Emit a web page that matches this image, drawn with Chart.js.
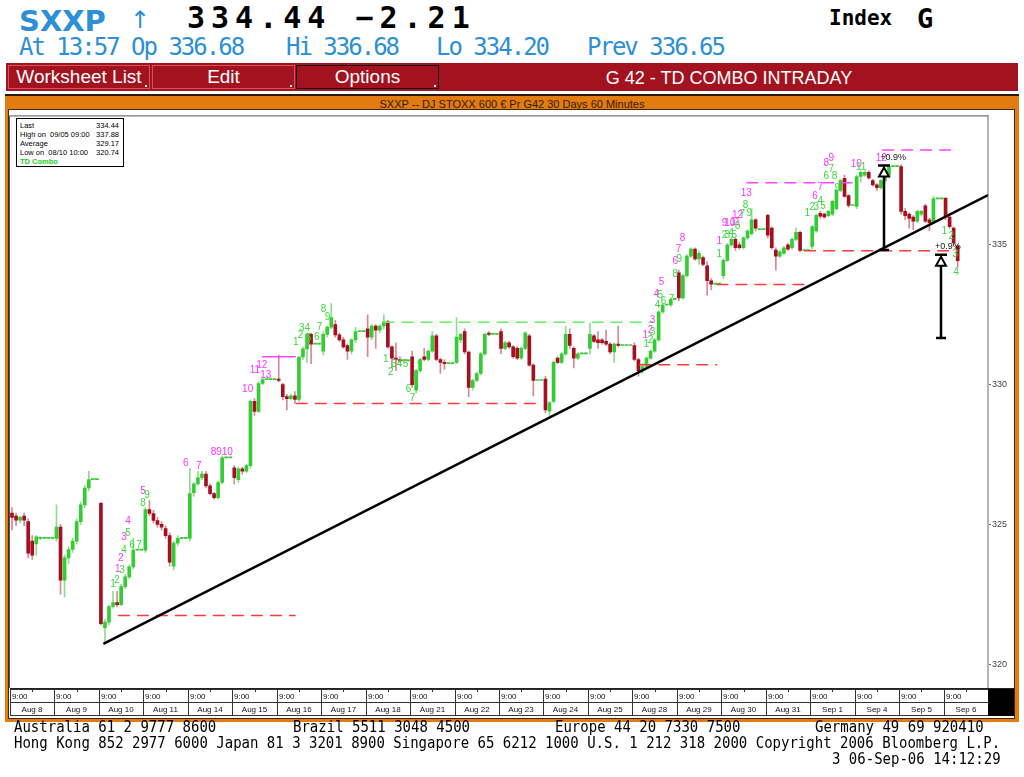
<!DOCTYPE html>
<html>
<head>
<meta charset="utf-8">
<script src="https://cdn.jsdelivr.net/npm/chart.js@4.4.1/dist/chart.umd.min.js"></script>
<style>
  body { margin: 0; width: 1024px; height: 777px; background: #fff; position: relative; overflow: hidden; }
  .t { position: absolute; white-space: pre; line-height: 1; }
  .mono { font-family: "DejaVu Sans Mono", monospace; }
  .blue { color: #2d8fd5; }
  #menu { position: absolute; left: 6px; top: 63px; width: 1012px; height: 28px; background: #a3121f; }
  .btn { position: absolute; top: 2px; height: 22px; border: 1px solid #d9505c; color: #fff;
         font: 19px "Liberation Sans", Arial, sans-serif; text-align: center; line-height: 22px; }
  .btn i { position: absolute; right: 2px; bottom: 1px; width: 2px; height: 2px; background: #fff; }
  #panel { position: absolute; left: 5px; top: 94px; width: 1014px; height: 628px; background: #e27c10;
           border-top: 2px solid #2a1a0a; box-sizing: border-box; }
  #ptitle { position: absolute; left: 0; top: 2px; width: 100%; text-align: center;
            font: 11px "Liberation Sans", Arial, sans-serif; color: #3a1800; }
  #plot { position: absolute; left: 9px; top: 110px; width: 1005px; height: 608px; background: #fff;
          box-shadow: 0 0 0 1px #3a2a1a; }
  #chart { position: absolute; left: 0; top: 0; }
  #legend { position: absolute; left: 16px; top: 118px; width: 106px; height: 47px; border: 1px solid #000;
            background: #fff; font: 7.5px "Liberation Sans", Arial, sans-serif; color: #000; }
  #legend div { position: absolute; left: 3px; white-space: pre; }
  #legend span { position: absolute; right: 4px; white-space: pre; }
  .foot { font: 14px "DejaVu Sans Mono", monospace; color: #000; transform: scaleY(1.18); transform-origin: 0 0; }
</style>
</head>
<body>

<!-- header -->
<div class="t blue" style="left:19px;top:4px;font:bold 29px 'DejaVu Sans',sans-serif;">SXXP</div>
<div class="t blue" style="left:130px;top:6px;font:24px 'DejaVu Sans',sans-serif;">↑</div>
<div class="t mono" style="left:187px;top:3px;font-weight:bold;font-size:30px;letter-spacing:6px;">334.44 −2.21</div>
<div class="t mono" style="left:829px;top:8px;font-weight:bold;font-size:21px;">Index</div>
<div class="t mono" style="left:917px;top:5px;font-weight:bold;font-size:27px;">G</div>

<div class="t mono blue" style="left:19px;top:35px;font-size:24px;letter-spacing:-2px;">At 13:57 Op 336.68</div>
<div class="t mono blue" style="left:286px;top:35px;font-size:24px;letter-spacing:-2px;">Hi 336.68</div>
<div class="t mono blue" style="left:436px;top:35px;font-size:24px;letter-spacing:-2px;">Lo 334.20</div>
<div class="t mono blue" style="left:587px;top:35px;font-size:24px;letter-spacing:-2px;">Prev 336.65</div>

<div id="menu">
  <div class="btn" style="left:2px;width:140px;">Worksheet List<i></i></div>
  <div class="btn" style="left:146px;width:141px;">Edit<i></i></div>
  <div class="btn" style="left:290px;width:141px;border-color:#111;">Options<i></i></div>
  <div class="t" style="left:434px;top:5px;width:578px;text-align:center;color:#fff;font:18px 'Liberation Sans',Arial,sans-serif;">G 42 - TD COMBO INTRADAY</div>
</div>

<div id="panel"><div id="ptitle">SXXP -- DJ STOXX 600 € Pr G42 30 Days 60 Minutes</div></div>
<div id="plot"><canvas id="chart" width="1005" height="608"></canvas></div>

<div id="legend">
  <div style="top:2px;">Last</div><span style="top:2px;">334.44</span>
  <div style="top:11px;">High on  09/05 09:00</div><span style="top:11px;">337.88</span>
  <div style="top:20px;">Average</div><span style="top:20px;">329.17</span>
  <div style="top:29px;">Low on  08/10 10:00</div><span style="top:29px;">320.74</span>
  <div style="top:38px;color:#22cc22;font-weight:bold;">TD Combo</div>
</div>

<!-- footer -->
<div class="t foot" style="left:14px;top:717px;">Australia 61 2 9777 8600</div>
<div class="t foot" style="left:293px;top:717px;">Brazil 5511 3048 4500</div>
<div class="t foot" style="left:555px;top:717px;">Europe 44 20 7330 7500</div>
<div class="t foot" style="left:815px;top:717px;">Germany 49 69 920410</div>
<div class="t foot" style="left:14px;top:733px;">Hong Kong 852 2977 6000 Japan 81 3 3201 8900 Singapore 65 6212 1000 U.S. 1 212 318 2000 Copyright 2006 Bloomberg L.P.</div>
<div class="t foot" style="left:832px;top:749px;">3 06-Sep-06 14:12:29</div>

<script>
// hourly bars, 11 slots per trading day (flat slots after the close show as dotted)
const slotsPerDay = 11;
const days = ['Aug 8', 'Aug 9', 'Aug 10', 'Aug 11', 'Aug 14', 'Aug 15', 'Aug 16', 'Aug 17', 'Aug 18',
              'Aug 21', 'Aug 22', 'Aug 23', 'Aug 24', 'Aug 25', 'Aug 28', 'Aug 29', 'Aug 30', 'Aug 31',
              'Sep 1', 'Sep 4', 'Sep 5', 'Sep 6'];
const yTicks = [320, 325, 330, 335];

const opens = [
  325.40,325.30,325.15,325.30,325.10,324.40,324.30,324.50,324.50,324.50,324.50,
  324.50,324.90,323.00,323.80,324.10,324.40,325.10,325.70,326.30,326.60,326.60,
  325.75,321.30,321.50,322.06,322.20,322.13,322.77,323.12,323.48,324.08,324.08,
  324.08,325.53,325.39,325.14,325.00,324.85,324.60,323.50,324.33,324.50,324.50,
  324.50,326.13,326.45,326.67,326.80,326.38,326.10,325.96,326.50,327.38,327.38,
  327.02,326.60,326.99,326.90,327.10,329.40,329.04,330.04,330.18,330.18,330.18,
  330.20,330.00,329.57,329.50,329.60,329.47,330.99,331.28,331.80,331.45,331.45,
  331.20,331.80,332.06,332.15,331.78,331.60,331.40,331.20,331.60,331.90,331.90,
  332.00,331.70,332.10,331.95,332.10,332.25,331.35,330.95,330.90,330.85,330.85,
  331.00,329.80,330.50,331.00,330.90,331.20,331.75,330.90,330.80,330.75,330.75,
  330.80,331.60,331.90,331.17,329.90,330.15,330.40,331.10,331.85,331.80,331.80,
  331.90,331.30,331.50,331.35,331.30,330.95,331.30,331.75,330.70,330.15,330.15,
  330.20,329.05,329.40,330.95,330.80,331.10,331.80,331.30,330.95,331.10,331.10,
  331.30,331.75,331.60,331.60,331.55,331.45,331.17,331.45,331.40,331.40,331.40,
  331.40,330.90,330.50,330.65,330.95,331.20,331.60,332.60,332.85,332.85,333.05,
  334.00,333.10,333.90,334.60,334.85,334.50,334.55,334.25,333.72,333.60,333.60,
  333.90,334.45,335.00,335.20,335.00,334.90,335.25,335.40,335.90,335.55,335.55,
  336.06,335.60,334.82,334.60,334.70,335.00,334.90,335.20,335.45,334.80,334.80,
  334.95,335.50,336.13,336.10,336.05,336.10,336.30,336.95,337.38,336.77,336.41,
  336.38,337.45,337.50,337.60,337.30,337.15,337.05,337.30,337.50,337.80,337.80,
  337.80,336.20,336.10,336.00,335.85,336.10,336.40,335.90,335.80,336.65,336.65,
  336.68,336.00,335.60,334.96
];
const highs = [
  325.60,325.40,325.30,325.40,325.20,324.60,324.60,324.55,324.50,324.50,324.50,
  325.70,325.00,323.90,324.20,324.50,325.20,325.80,326.40,326.90,326.60,326.60,
  325.80,321.60,322.10,322.60,322.60,322.85,323.20,323.55,324.50,324.08,324.08,
  325.60,325.85,325.50,325.25,325.10,324.95,324.70,324.40,324.60,324.50,324.50,
  327.00,326.50,326.90,326.90,326.90,326.45,326.15,326.55,327.45,327.38,327.38,
  327.10,327.05,327.05,327.15,329.45,329.50,330.10,330.25,330.18,330.18,330.18,
  331.06,330.05,329.65,329.65,329.75,331.00,331.35,331.85,331.85,331.45,331.45,
  331.90,332.10,332.90,332.30,331.85,331.70,331.45,331.65,332.05,331.90,331.90,
  332.50,332.15,332.15,332.15,332.50,332.30,331.40,331.50,331.00,330.85,330.85,
  331.20,330.55,330.95,331.30,331.25,331.90,331.80,330.95,330.90,330.75,330.75,
  332.40,331.85,332.00,331.20,330.20,330.45,331.15,331.85,331.90,331.80,331.80,
  332.00,331.55,331.55,331.40,331.35,331.35,331.90,331.80,330.75,330.15,330.15,
  330.30,329.40,330.85,331.00,331.15,332.10,332.00,331.35,331.15,331.10,331.10,
  332.20,331.80,331.90,331.65,331.95,331.50,331.50,332.10,331.40,331.40,331.40,
  331.50,330.95,330.75,331.00,331.25,331.65,332.65,332.90,332.85,333.10,333.05,
  334.10,333.95,334.65,334.90,334.90,334.80,334.60,334.40,333.80,333.60,333.60,
  334.50,335.05,335.30,335.25,335.10,335.30,335.55,336.30,335.95,335.55,335.55,
  336.10,335.65,334.90,334.80,334.95,335.05,335.25,335.60,335.50,334.80,334.80,
  335.70,336.10,336.20,336.15,336.25,336.60,337.00,337.35,337.50,336.80,336.41,
  337.50,337.65,337.65,337.65,337.35,337.20,337.35,337.55,337.85,337.80,337.80,
  337.88,336.30,336.15,336.05,336.25,336.25,336.45,335.95,336.75,336.65,336.65,
  336.68,336.10,335.65,335.00
];
const lows = [
  324.80,324.95,325.05,324.95,323.80,323.75,323.90,324.45,324.50,324.50,324.50,
  324.40,322.50,322.40,323.60,324.00,324.30,325.00,325.60,326.20,326.60,326.60,
  321.40,320.74,321.40,322.00,322.05,322.10,322.70,323.05,323.40,324.08,324.08,
  324.00,325.30,325.05,324.90,324.80,324.50,323.50,323.37,324.25,324.50,324.50,
  324.40,326.00,326.40,326.60,326.30,326.05,325.90,325.90,326.45,327.38,327.38,
  326.45,326.50,326.80,326.85,327.00,328.90,329.00,330.00,330.18,330.18,330.18,
  330.10,329.45,329.10,329.45,329.33,329.40,330.90,330.80,330.75,331.45,331.45,
  331.06,331.70,332.00,331.70,331.55,331.30,330.90,331.10,331.50,331.90,331.90,
  331.00,331.60,331.30,331.85,332.00,331.30,330.60,330.50,330.80,330.85,330.85,
  329.90,329.70,330.45,330.85,330.85,331.15,330.85,330.40,330.55,330.75,330.75,
  330.75,331.50,331.10,329.57,329.80,330.10,330.35,331.05,331.75,331.80,331.80,
  331.10,331.25,331.30,330.95,330.90,330.90,331.25,330.65,329.60,330.15,330.15,
  329.00,328.87,329.35,330.75,330.75,331.05,331.30,330.60,330.90,331.10,331.10,
  331.10,331.50,331.30,331.45,331.40,331.10,330.80,331.35,331.40,331.40,331.40,
  330.85,330.30,330.40,330.60,330.90,331.15,331.55,332.55,332.85,332.80,333.05,
  333.00,333.05,333.85,334.55,334.45,334.30,334.25,333.20,333.40,333.60,333.60,
  333.80,334.40,334.95,334.80,334.85,334.85,335.20,335.35,335.50,335.55,335.55,
  335.25,334.85,334.10,334.55,334.65,334.80,334.85,335.15,334.75,334.80,334.80,
  334.85,335.45,335.95,335.95,336.00,336.05,336.25,336.90,336.70,336.35,336.41,
  336.30,337.25,337.45,337.35,337.10,336.95,337.00,337.25,337.45,337.80,337.80,
  336.10,335.90,335.60,335.55,335.80,336.05,335.80,335.50,335.75,336.65,336.65,
  335.90,335.60,335.00,334.20
];
const closes = [
  325.25,325.15,325.25,325.15,323.97,323.90,324.55,324.50,324.50,324.50,324.50,
  324.90,323.00,323.80,324.10,324.40,325.10,325.70,326.30,326.60,326.60,326.60,
  321.45,321.50,322.06,322.20,322.13,322.77,323.12,323.48,324.08,324.08,324.08,
  325.53,325.39,325.14,325.00,324.90,324.60,323.65,324.33,324.50,324.50,324.50,
  326.10,326.45,326.67,326.80,326.38,326.10,325.96,326.50,327.38,327.38,327.38,
  326.67,326.99,326.90,327.10,329.40,329.04,330.04,330.18,330.18,330.18,330.18,
  330.15,329.57,329.50,329.60,329.47,330.99,331.28,331.80,331.45,331.45,331.45,
  331.80,332.06,332.40,331.78,331.60,331.35,331.20,331.60,331.90,331.90,331.90,
  331.70,332.10,331.95,332.10,332.25,331.35,330.95,330.90,330.85,330.85,330.85,
  330.00,330.50,330.90,330.90,331.20,331.75,330.90,330.80,330.75,330.75,330.75,
  331.70,331.80,331.17,329.90,330.15,330.40,331.10,331.80,331.80,331.80,331.80,
  331.30,331.50,331.35,331.00,330.95,331.30,331.85,330.70,330.15,330.15,330.15,
  329.10,329.35,330.80,330.80,331.10,331.80,331.40,330.95,331.10,331.10,331.10,
  331.80,331.55,331.50,331.50,331.45,331.17,331.45,331.40,331.40,331.40,331.40,
  330.90,330.50,330.65,330.95,331.20,331.60,332.60,332.85,332.85,333.05,333.05,
  333.10,333.90,334.60,334.85,334.50,334.70,334.30,333.72,333.60,333.60,333.60,
  334.45,335.00,335.20,334.90,334.90,335.25,335.50,335.90,335.60,335.55,335.55,
  335.35,334.90,334.60,334.75,334.90,334.85,335.20,335.45,334.80,334.80,334.80,
  335.65,336.06,336.03,336.00,336.20,336.56,336.95,337.30,336.74,336.41,336.41,
  337.45,337.60,337.60,337.40,337.15,337.05,337.30,337.50,337.80,337.80,337.80,
  336.20,336.05,335.95,335.85,336.20,336.20,335.85,335.80,336.65,336.65,336.65,
  336.00,335.65,335.07,334.44
];

// TD setup / countdown levels: [fromSlot, toSlot, value]
const redLevels = [[26.2, 70.2, 321.74], [70.2, 130.5, 329.33], [155.2, 174.5, 330.71],
                   [174.3, 197.3, 333.58], [196.0, 234.0, 334.79]];
const greenLevels = [[91.7, 158.9, 332.23]];
const magentaLevels = [[181.7, 208.0, 337.23], [215.3, 233.1, 338.40]];
const magentaSolid = [[61.8, 70.2, 331.00]];
// trend line endpoints [slot, value]
const trendLine = [[22.6, 320.72], [241.5, 336.78]];
// projection arrows: [slot, fromValue, toValue, labelSlot, labelValue]
const arrows = [[215.8, 334.82, 337.84, 218.0, 338.12], [229.9, 331.67, 334.65, 231.6, 334.93]];

// TD count numbers: [slot, value, text]
const tdMagenta = [
  [26.2, 323.40, '1'], [26.9, 323.79, '2'], [27.7, 324.54, '3'], [28.7, 325.11, '4'], [32.4, 326.17, '5'],
  [43.0, 327.20, '6'], [46.2, 327.09, '7'], [51.9, 327.59, '8910'],
  [58.3, 329.82, '10'], [60.1, 330.53, '11'], [61.8, 330.71, '12'], [62.8, 330.35, '13'],
  [156.7, 331.77, '1'], [158.0, 331.95, '2'], [158.5, 332.30, '3'], [159.5, 333.23, '4'], [160.7, 333.65, '5'],
  [164.1, 334.43, '6'], [164.9, 334.86, '7'], [165.9, 335.25, '8'],
  [175.0, 335.14, '1'], [176.3, 335.78, '9'], [177.6, 335.78, '10'], [179.0, 335.82, '11'],
  [179.5, 336.06, '12'], [181.7, 336.84, '13'],
  [198.7, 336.74, '6'], [200.0, 337.06, '7'], [201.5, 337.91, '8'], [202.7, 338.12, '9'],
  [208.9, 337.87, '10'], [215.1, 338.09, '12']
];
const tdGreen = [
  [25.0, 322.84, '1'], [26.0, 323.01, '2'], [27.2, 323.37, '3'], [27.7, 324.08, '4'], [28.7, 324.68, '5'],
  [29.7, 324.26, '6'], [31.4, 324.26, '7'], [32.4, 325.74, '8'], [33.4, 326.03, '9'],
  [70.2, 331.52, '1'], [71.4, 331.77, '2'], [72.4, 332.02, '34'], [73.4, 331.67, '5'], [75.4, 331.70, '6'],
  [76.1, 332.06, '7'], [77.1, 332.70, '8'], [78.1, 332.41, '9'],
  [92.5, 330.92, '1'], [93.7, 330.43, '2'], [95.2, 330.74, '34'], [97.4, 330.74, '5'], [98.1, 329.82, '6'],
  [99.1, 329.50, '7'], [99.9, 330.28, '8'], [100.9, 330.71, '9'],
  [157.0, 331.45, '1'], [158.0, 331.60, '2'], [158.5, 331.88, '3'], [159.7, 332.84, '4'], [160.4, 333.19, '5'],
  [161.2, 332.98, '6'], [163.2, 333.05, '7'], [164.1, 333.94, '8'], [165.1, 334.47, '9'],
  [175.0, 334.65, '1'], [176.3, 335.35, '2'], [177.0, 335.35, '3'], [178.0, 335.43, '4'], [178.7, 335.35, '5'],
  [179.5, 335.67, '6'], [180.7, 336.10, '7'], [181.5, 336.42, '8'], [182.4, 336.13, '9'],
  [196.8, 336.13, '1'], [198.0, 336.35, '2'], [199.0, 336.35, '3'], [200.0, 336.56, '4'], [200.7, 336.38, '5'],
  [201.5, 337.45, '6'], [202.7, 337.70, '7'], [203.5, 337.45, '8'], [204.2, 337.02, '9'], [210.1, 337.77, '11'],
  [230.7, 335.50, '1'], [232.4, 335.32, '2'], [233.4, 334.65, '3'], [233.6, 334.04, '4']
];

const upColor = '#33cc33';
const downColor = '#a50f1f';
const upWick = '#8edc8e';
const downWick = '#d48a96';

const isUp = opens.map((o, i) => closes[i] >= o);
const bodies = opens.map((o, i) => ({ x: i, y: [o, closes[i]] }));
const wicks = opens.map((o, i) => ({ x: i, y: [lows[i], highs[i]] }));

function levelSet(list, color, dash) {
  return list.map(([a, b, v]) => ({
    type: 'line',
    data: [{ x: a, y: v }, { x: b, y: v }],
    borderColor: color,
    borderWidth: 1.5,
    borderDash: dash,
    pointRadius: 0,
    order: 1
  }));
}

const decor = {
  id: 'decor',
  afterDraw(chart) {
    const { ctx, chartArea: a, scales: { x, y } } = chart;
    ctx.save();

    // plot frame (left / top)
    ctx.strokeStyle = '#555';
    ctx.lineWidth = 1;
    ctx.beginPath();
    ctx.moveTo(a.left - 0.5, a.bottom + 1);
    ctx.lineTo(a.left - 0.5, a.top - 0.5);
    ctx.lineTo(a.right, a.top - 0.5);
    ctx.stroke();

    // TD numbers
    ctx.font = '10px "Liberation Sans", Arial, sans-serif';
    ctx.textAlign = 'center';
    ctx.textBaseline = 'middle';
    ctx.fillStyle = '#ff33ff';
    tdMagenta.forEach(([s, v, t]) => ctx.fillText(t, x.getPixelForValue(s), y.getPixelForValue(v)));
    ctx.fillStyle = '#3ad83a';
    tdGreen.forEach(([s, v, t]) => ctx.fillText(t, x.getPixelForValue(s), y.getPixelForValue(v)));

    // arrows
    arrows.forEach(([s, v0, v1, ls, lv]) => {
      const px = Math.round(x.getPixelForValue(s));
      const p0 = y.getPixelForValue(v0);
      const p1 = y.getPixelForValue(v1);
      ctx.strokeStyle = '#000';
      ctx.lineWidth = 2.5;
      ctx.beginPath();
      ctx.moveTo(px, p0); ctx.lineTo(px, p1 + 10);
      ctx.moveTo(px - 5, p0); ctx.lineTo(px + 5, p0);
      ctx.moveTo(px - 6, p1); ctx.lineTo(px + 6, p1);
      ctx.stroke();
      ctx.lineWidth = 2;
      ctx.fillStyle = '#fff';
      ctx.beginPath();
      ctx.moveTo(px, p1 + 2); ctx.lineTo(px - 5, p1 + 11); ctx.lineTo(px + 5, p1 + 11);
      ctx.closePath();
      ctx.fill(); ctx.stroke();
      ctx.fillStyle = '#111';
      ctx.font = '9px "Liberation Sans", Arial, sans-serif';
      ctx.fillText('+0.9%', x.getPixelForValue(ls), y.getPixelForValue(lv));
    });

    // time axis boxes
    const y0 = a.bottom + 2;
    const rh = 13;
    ctx.fillStyle = '#fff';
    ctx.fillRect(a.left, y0, a.right - a.left, rh * 2);
    ctx.strokeStyle = '#222';
    ctx.lineWidth = 1;
    ctx.beginPath();
    ctx.moveTo(a.left, a.bottom + 1.5); ctx.lineTo(chart.width, a.bottom + 1.5);
    ctx.stroke();
    ctx.font = '8px "Liberation Sans", Arial, sans-serif';
    days.forEach((d, k) => {
      const xl = Math.round(x.getPixelForValue(k * slotsPerDay - 0.5));
      const xr = Math.round(x.getPixelForValue((k + 1) * slotsPerDay - 0.5));
      ctx.strokeStyle = '#333';
      ctx.strokeRect(xl + 0.5, y0 + 0.5, xr - xl, rh);
      ctx.strokeRect(xl + 0.5, y0 + rh + 0.5, xr - xl, rh);
      const xm = Math.round(x.getPixelForValue(k * slotsPerDay + 5)) + 0.5;
      ctx.beginPath(); ctx.moveTo(xm, y0 + 1); ctx.lineTo(xm, y0 + 3); ctx.stroke();
      ctx.fillStyle = '#111';
      ctx.textAlign = 'left';
      ctx.fillText('9:00', xl + 2, y0 + 7.5);
      ctx.textAlign = 'center';
      ctx.fillText(d, (xl + xr) / 2, y0 + rh + 7.5);
    });
    ctx.fillStyle = '#000';
    ctx.fillRect(a.right, y0, chart.width - a.right, rh * 2 + 1);
    ctx.restore();
  }
};

new Chart(document.getElementById('chart'), {
  type: 'bar',
  data: {
    datasets: [
      {
        data: wicks,
        backgroundColor: isUp.map(u => (u ? upWick : downWick)),
        barThickness: 1,
        grouped: false,
        order: 6
      },
      {
        data: bodies,
        backgroundColor: isUp.map(u => (u ? upColor : downColor)),
        barThickness: 3,
        minBarLength: 1,
        grouped: false,
        order: 5
      },
      ...levelSet(redLevels, '#ff3b3b', [12, 7]),
      ...levelSet(greenLevels, '#66ee66', [12, 7]),
      ...levelSet(magentaLevels, '#ff44ff', [12, 7]),
      ...levelSet(magentaSolid, '#ff44ff', []),
      {
        type: 'line',
        data: trendLine.map(([s, v]) => ({ x: s, y: v })),
        borderColor: '#000',
        borderWidth: 2.5,
        pointRadius: 0,
        order: 0
      }
    ]
  },
  options: {
    responsive: false,
    animation: false,
    devicePixelRatio: 1,
    events: [],
    layout: { padding: { left: 1, top: 1, right: 0, bottom: 31 } },
    plugins: { legend: { display: false }, tooltip: { enabled: false } },
    scales: {
      x: { type: 'linear', min: -0.5, max: 241.5, offset: false, display: false },
      y: {
        position: 'right',
        min: 319.18,
        max: 339.6,
        beginAtZero: false,
        afterBuildTicks: s => { s.ticks = yTicks.map(v => ({ value: v })); },
        afterFit: s => { s.width = 26; },
        ticks: { font: { size: 9, family: 'Liberation Sans' }, color: '#444', padding: 1 },
        grid: { drawOnChartArea: false, tickLength: 3, color: '#666' },
        border: { color: '#b4b4b4', width: 2 }
      }
    }
  },
  plugins: [decor]
});
</script>
</body>
</html>
